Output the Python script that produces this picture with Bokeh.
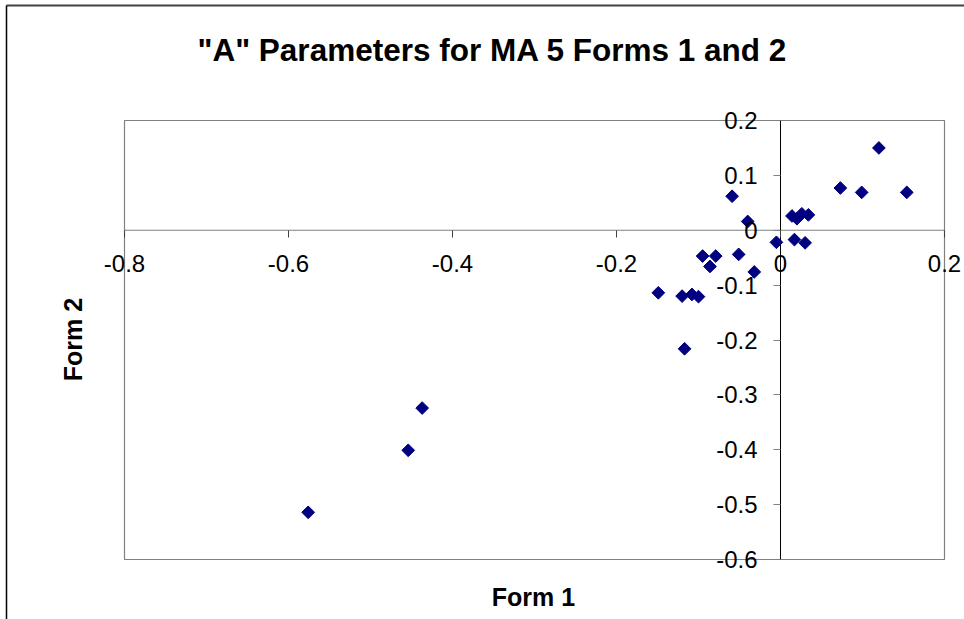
import numpy as np
from bokeh.plotting import figure
from bokeh.models import FixedTicker, Range1d, ColumnDataSource
from bokeh.core.properties import value
from bokeh.embed import file_html
from bokeh.resources import INLINE

# ---- data ----
form1 = [-0.576, -0.454, -0.437, -0.149, -0.120, -0.117, -0.108, -0.100,
         -0.095, -0.086, -0.079, -0.059, -0.051, -0.040, -0.032, -0.005,
         0.014, 0.020, 0.026, 0.034, 0.017, 0.030, 0.073, 0.099, 0.120, 0.154]
form2 = [-0.514, -0.401, -0.324, -0.114, -0.120, -0.216, -0.117, -0.121,
         -0.047, -0.066, -0.047, 0.062, -0.044, 0.016, -0.076, -0.022,
         0.026, 0.021, 0.030, 0.028, -0.017, -0.023, 0.077, 0.069, 0.150, 0.069]

x_ticks = [-0.8, -0.6, -0.4, -0.2, 0.0, 0.2]
x_tick_labels = ["-0.8", "-0.6", "-0.4", "-0.2", "0", "0.2"]
y_ticks = [-0.6, -0.5, -0.4, -0.3, -0.2, -0.1, 0.0, 0.1, 0.2]
y_tick_labels = ["-0.6", "-0.5", "-0.4", "-0.3", "-0.2", "-0.1", "0", "0.1", "0.2"]

title_text = '"A" Parameters for MA 5 Forms 1 and 2'
x_title = "Form 1"
y_title = "Form 2"

FONT = "Liberation Sans"

# ---- layout (pixels on the page) ----
W, H = 964, 619
L, R, T, B = 124, 944, 120, 559          # plot-area box
X0, X1 = x_ticks[0], x_ticks[-1]
Y0, Y1 = y_ticks[0], y_ticks[-1]
sx = (X1 - X0) / (R - L)
sy = (Y1 - Y0) / (B - T)


def dx(px):
    return X0 + (px - L) * sx


def dy(py):
    return Y1 - (py - T) * sy


p = figure(width=W, height=H,
           x_range=Range1d(dx(0), dx(W)), y_range=Range1d(dy(H), dy(0)),
           output_backend="svg", toolbar_location=None,
           min_border=0, min_border_left=0, min_border_right=0,
           min_border_top=0, min_border_bottom=0)
p.background_fill_color = "white"
p.border_fill_color = "white"
p.outline_line_color = None
p.grid.visible = False

# outer chart-area border (top and left edges visible)
p.segment(x0=[dx(6), dx(6)], y0=[dy(5), dy(5)], x1=[dx(W), dx(6)], y1=[dy(5), dy(H)],
          line_color=["#404040", "#000000"], line_width=[2, 1.5])

# plot-area box
p.quad(left=[X0], right=[X1], bottom=[Y0], top=[Y1],
       fill_color=None, line_color="#808080", line_width=1.2)

# axis lines crossing at zero
p.segment(x0=[X0], y0=[0], x1=[X1], y1=[0], line_color="#808080", line_width=1.2)
p.segment(x0=[0], y0=[Y0], x1=[0], y1=[Y1], line_color="#000000", line_width=1)

# axes (ticks + labels) fixed at zero
xa = p.xaxis[0]
xa.fixed_location = 0
xa.ticker = FixedTicker(ticks=x_ticks, minor_ticks=[])
xa.major_label_overrides = {t: l for t, l in zip(x_ticks, x_tick_labels)}
xa.axis_line_color = None
xa.major_tick_line_color = "#404040"
xa.major_tick_out = 7
xa.major_tick_in = 0
xa.minor_tick_out = 0
xa.minor_tick_in = 0
xa.major_label_standoff = 18
xa.major_label_text_font = FONT
xa.major_label_text_font_size = "24px"
xa.major_label_text_color = "black"

ya = p.yaxis[0]
ya.fixed_location = 0
ya.ticker = FixedTicker(ticks=y_ticks, minor_ticks=[])
ya.major_label_overrides = {t: l for t, l in zip(y_ticks, y_tick_labels)}
ya.axis_line_color = None
ya.major_tick_line_color = "#808080"
ya.major_tick_out = 7
ya.major_tick_in = 0
ya.minor_tick_out = 0
ya.minor_tick_in = 0
ya.major_label_standoff = 16
ya.major_label_text_font = FONT
ya.major_label_text_font_size = "24px"
ya.major_label_text_color = "black"

# data points
src = ColumnDataSource(dict(x=form1, y=form2))
p.scatter("x", "y", source=src, marker="square", angle=np.pi / 4, size=9,
          fill_color="#000080", line_color="#000080")

# titles
p.text(x=[dx(492)], y=[dy(49)], text=[title_text],
       text_font=value(FONT), text_font_size="31.5px", text_font_style="bold",
       text_align="center", text_baseline="alphabetic", text_color="black")
p.text(x=[dx(533)], y=[dy(596)], text=[x_title],
       text_font=value(FONT), text_font_size="25px", text_font_style="bold",
       text_align="center", text_baseline="alphabetic", text_color="black")
p.text(x=[dx(72)], y=[dy(339)], text=[y_title], angle=np.pi / 2,
       text_font=value(FONT), text_font_size="25px", text_font_style="bold",
       text_align="center", text_baseline="alphabetic", text_color="black")

open("out.html", "w").write(file_html(p, INLINE))
